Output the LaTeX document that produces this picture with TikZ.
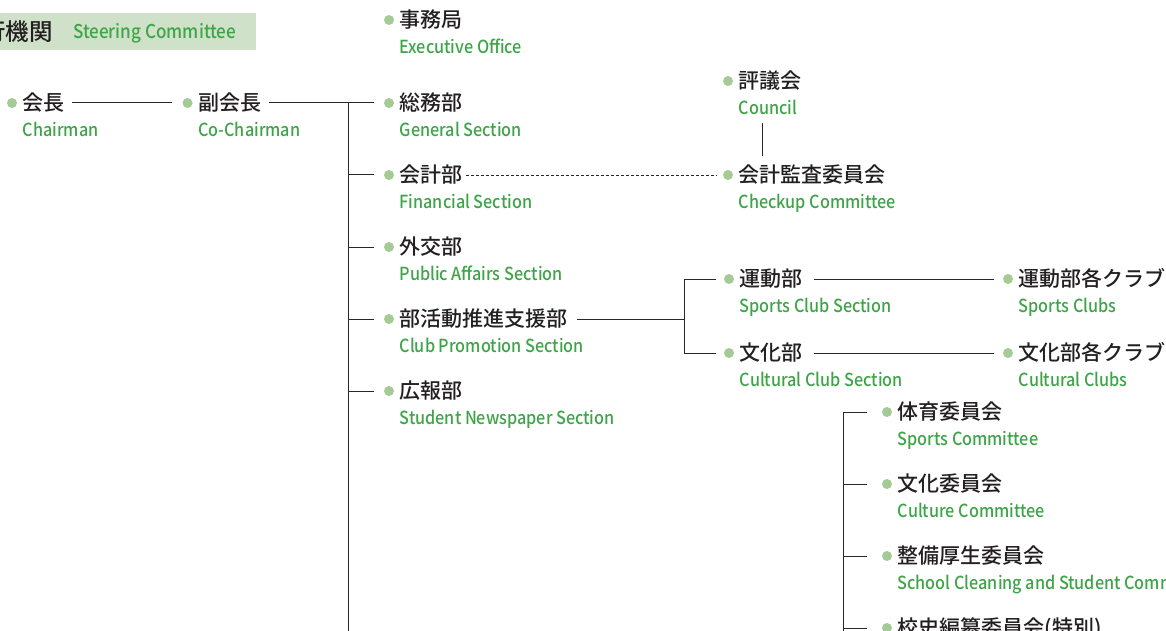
\documentclass[tikz,border=0pt]{standalone}
\usepackage{fontspec}
\setmainfont{Noto Sans CJK JP}[UprightFont={* Medium}]
\newfontfamily\enfont{Noto Sans CJK JP}[UprightFont={* Medium}, FakeStretch=0.9]
\usetikzlibrary{calc}
\definecolor{txtblack}{RGB}{35,31,32}
\definecolor{engreen}{RGB}{62,164,72}
\definecolor{dotgreen}{RGB}{164,203,150}
\definecolor{hdrgreen}{RGB}{207,226,201}
\definecolor{linegray}{RGB}{40,40,40}
\tikzset{
  jp/.style={font=\fontsize{21}{24}\selectfont, text=txtblack, inner sep=0pt, anchor=base west},
  hjp/.style={font=\fontsize{23.5}{27}\selectfont, text=txtblack, inner sep=0pt},
  en/.style={font=\enfont\fontsize{18}{22}\selectfont, text=engreen, inner sep=0pt, anchor=base west},
  hen/.style={font=\enfont\fontsize{19}{22}\selectfont, text=engreen, inner sep=0pt, anchor=base west},
  dot/.style={circle, fill=dotgreen, minimum size=10pt, inner sep=0pt},
  conn/.style={draw=linegray, line width=1pt},
  dconn/.style={draw=linegray, line width=0.8pt, dash pattern=on 3pt off 2pt},
}
% name, dot x, centre y, japanese, english
\newcommand\orgnode[5]{%
  \node[dot] (#1d) at (#2,#3) {};
  \node[jp] (#1) at (#2+10.5,#3+7.8) {#4};
  \node[en] (#1e) at (#2+10.5,#3+33.5) {#5};
}
\begin{document}
\begin{tikzpicture}[x=1pt,y=-1pt]
\useasboundingbox (0,0) rectangle (1166,631);
\clip (0,0) rectangle (1166,631);
% header
\fill[hdrgreen] (-5,13) rectangle (256,50);
\node[hjp, anchor=base east] (hdr) at (53,40.5) {執行機関};
\node[hen] (hdre) at (73,38.5) {Steering Committee};
% nodes
\orgnode{kaicho}{12}{103}{会長}{Chairman}
\orgnode{fuku}{187.5}{103}{副会長}{Co-Chairman}
\orgnode{jimu}{389}{20}{事務局}{Executive Office}
\orgnode{soumu}{389}{103}{総務部}{General Section}
\orgnode{kaikei}{389}{175}{会計部}{Financial Section}
\orgnode{gaikou}{389}{247}{外交部}{Public Affairs Section}
\orgnode{bukatsu}{389}{319}{部活動推進支援部}{Club Promotion Section}
\orgnode{kouhou}{389}{391}{広報部}{Student Newspaper Section}
\orgnode{hyougi}{728}{81}{評議会}{Council}
\orgnode{kansa}{728}{175}{会計監査委員会}{Checkup Committee}
\orgnode{undou}{729}{279}{運動部}{Sports Club Section}
\orgnode{bunka}{729}{353}{文化部}{Cultural Club Section}
\orgnode{undouclub}{1008}{279}{運動部各クラブ}{Sports Clubs}
\orgnode{bunkaclub}{1008}{353}{文化部各クラブ}{Cultural Clubs}
\orgnode{taiiku}{887}{412}{体育委員会}{Sports Committee}
\orgnode{bunkai}{887}{484}{文化委員会}{Culture Committee}
\orgnode{seibi}{887}{556}{整備厚生委員会}{School Cleaning and Student Committee}
\node[dot] (koushid) at (887,628) {};
\node[jp] (koushi) at (897.5,635.8) {校史編纂委員会(特別)};
% coordinates
\coordinate (trunk) at (348,103);
\coordinate (trunkend) at (348,640);
\coordinate (bk) at (684,319);
\coordinate (cm) at (843,412);
\coordinate (cmend) at (843,640);
% connectors
\draw[conn] ($(kaicho.east |- kaichod)+(7,0)$) -- ($(fukud.west)+(-10,0)$);
\draw[conn] ($(fuku.east |- fukud)+(8,0)$) -- ($(soumud.west)+(-10,0)$);
\draw[conn] (trunk) -- (trunkend);
\draw[conn] (trunk |- kaikeid) -- ($(kaikeid.west)+(-10,0)$);
\draw[conn] (trunk |- gaikoud) -- ($(gaikoud.west)+(-10,0)$);
\draw[conn] (trunk |- bukatsud) -- ($(bukatsud.west)+(-10,0)$);
\draw[conn] (trunk |- kouhoud) -- ($(kouhoud.west)+(-10,0)$);
\draw[dconn] ($(kaikei.east |- kaikeid)+(3,0)$) -- ($(kansad.west)+(-6,0)$);
\draw[conn] ($(hyougid)+(34,42)$) -- ($(kansad)+(34,-19)$);
\draw[conn] ($(bukatsu.east |- bukatsud)+(9,0)$) -- (bk);
\draw[conn] ($(undoud.west)+(-8,0)$) -| (bk) |- ($(bunkad.west)+(-8,0)$);
\draw[conn] ($(undou.east |- undoud)+(11,0)$) -- ($(undouclubd.west)+(-9,0)$);
\draw[conn] ($(bunka.east |- bunkad)+(11,0)$) -- ($(bunkaclubd.west)+(-9,0)$);
\draw[conn] ($(taiikud.west)+(-15,0)$) -| (cmend);
\draw[conn] (cm |- bunkaid) -- ($(bunkaid.west)+(-15,0)$);
\draw[conn] (cm |- seibid) -- ($(seibid.west)+(-15,0)$);
\draw[conn] (cm |- koushid) -- ($(koushid.west)+(-15,0)$);
\end{tikzpicture}
\end{document}
